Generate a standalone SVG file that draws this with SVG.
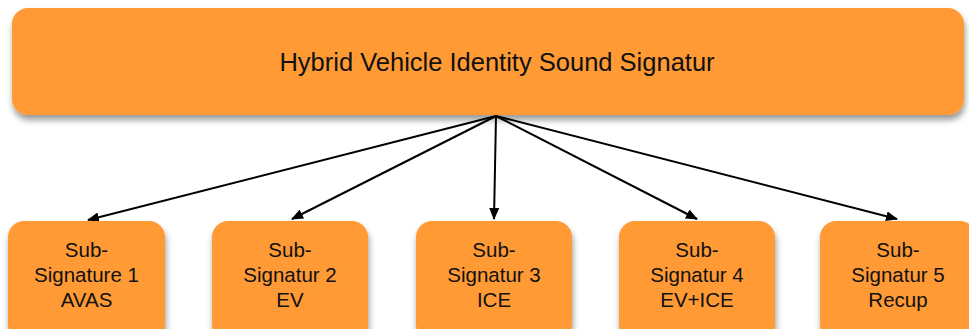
<svg xmlns="http://www.w3.org/2000/svg" width="969" height="329" viewBox="0 0 969 329">
<defs>
<filter id="sh" x="-10%" y="-20%" width="120%" height="160%">
<feDropShadow dx="1" dy="5" stdDeviation="3" flood-color="#000" flood-opacity="0.4"/>
</filter>
<marker id="ah" markerWidth="12" markerHeight="10" refX="11" refY="5" orient="auto" markerUnits="userSpaceOnUse">
<path d="M0,0 L12,5 L0,10 Z" fill="#000"/>
</marker>
<style>
.box{fill:#FF9A36;filter:url(#sh);}
.t{font-family:"Liberation Sans",Arial,sans-serif;fill:#111;text-anchor:middle;}
.title{font-size:25.5px;}
.sub{font-size:20.5px;}
.c{stroke:#000;stroke-width:2;fill:none;marker-end:url(#ah);}
</style>
</defs>
<g id="root">
<rect class="box" x="12" y="8" width="952" height="107" rx="16"/>
<text class="t title" x="497" y="71">Hybrid Vehicle Identity Sound Signatur</text>
</g>
<g id="connectors">
<line class="c" x1="496" y1="116" x2="88" y2="220"/>
<line class="c" x1="496" y1="116" x2="292" y2="219"/>
<line class="c" x1="496" y1="116" x2="494" y2="219"/>
<line class="c" x1="496" y1="116" x2="697" y2="219"/>
<line class="c" x1="496" y1="116" x2="897" y2="219"/>
</g>
<g id="n1">
<rect class="box" x="8" y="221" width="157" height="120" rx="16"/>
<text class="t sub" x="86.5" y="257">Sub-</text>
<text class="t sub" x="86.5" y="282">Signature 1</text>
<text class="t sub" x="86.5" y="307">AVAS</text>
</g>
<g id="n2">
<rect class="box" x="212" y="221" width="156" height="120" rx="16"/>
<text class="t sub" x="290" y="257">Sub-</text>
<text class="t sub" x="290" y="282">Signatur 2</text>
<text class="t sub" x="290" y="307">EV</text>
</g>
<g id="n3">
<rect class="box" x="416" y="221" width="156" height="120" rx="16"/>
<text class="t sub" x="494" y="257">Sub-</text>
<text class="t sub" x="494" y="282">Signatur 3</text>
<text class="t sub" x="494" y="307">ICE</text>
</g>
<g id="n4">
<rect class="box" x="619" y="221" width="156" height="120" rx="16"/>
<text class="t sub" x="697" y="257">Sub-</text>
<text class="t sub" x="697" y="282">Signatur 4</text>
<text class="t sub" x="697" y="307">EV+ICE</text>
</g>
<g id="n5">
<rect class="box" x="820" y="221" width="156" height="120" rx="16"/>
<text class="t sub" x="898" y="257">Sub-</text>
<text class="t sub" x="898" y="282">Signatur 5</text>
<text class="t sub" x="898" y="307">Recup</text>
</g>
</svg>
